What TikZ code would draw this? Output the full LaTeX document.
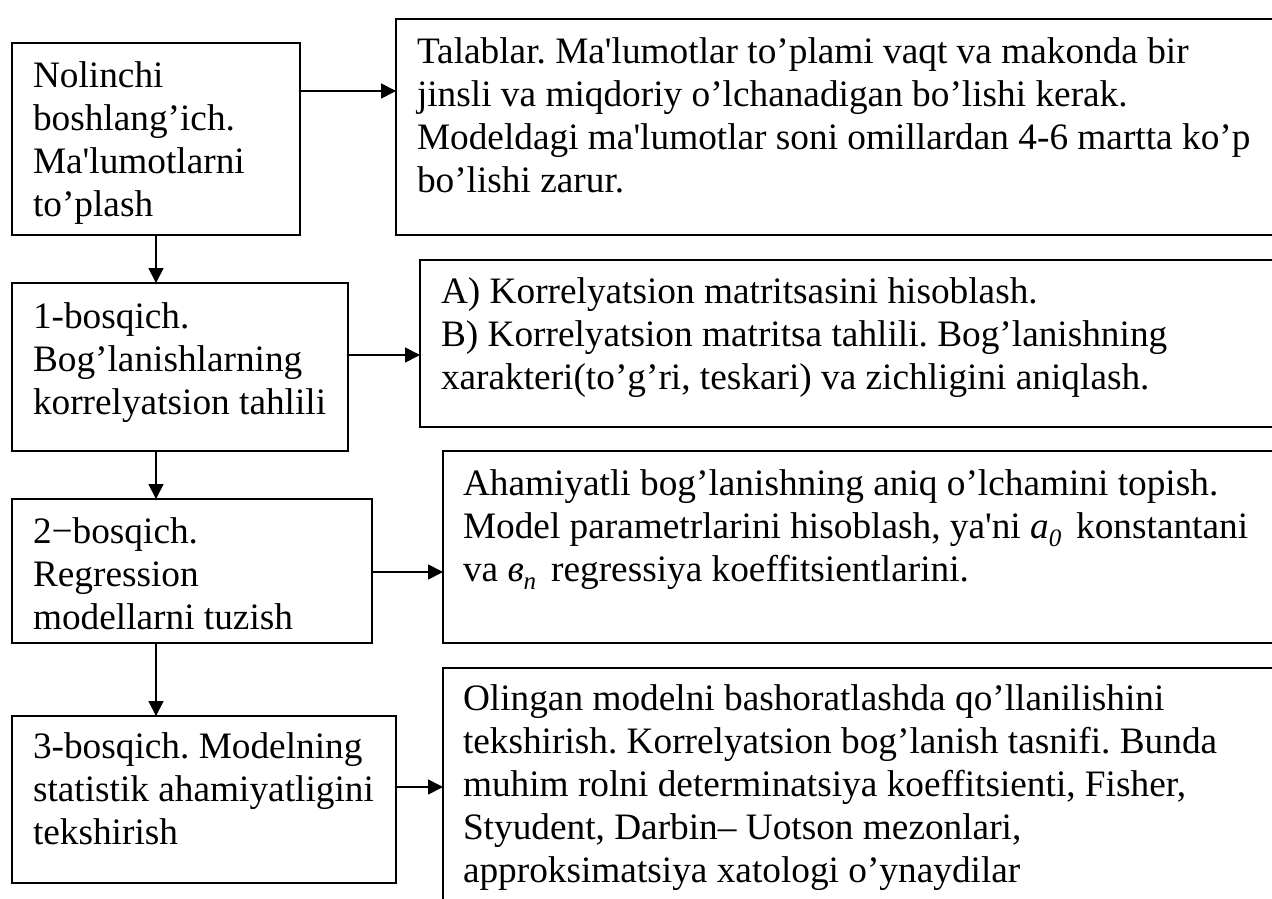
\documentclass[tikz,border=0pt]{standalone}
\usepackage{fontspec}
\setmainfont{Liberation Serif}[Ligatures=TeXOff]
\usetikzlibrary{arrows.meta}
\newcommand\myst{\rule{0pt}{30pt}}
\newcommand\mysub[1]{\raisebox{-0.22em}{\fontsize{25}{25}\selectfont #1}}
\frenchspacing
\begin{document}
\begin{tikzpicture}[x=1pt,y=-1pt,
  box/.style={draw,line width=1.8pt,rectangle,inner sep=0pt,outer sep=0pt,anchor=north west},
  txt/.style={inner sep=0pt,outer sep=0pt,anchor=north west,align=left,font=\fontsize{37.3}{43}\selectfont},
  arr/.style={line width=1.8pt,-{Triangle[length=15pt,width=15pt]}}]
\useasboundingbox (0,0) rectangle (1272,899);
\fill[white] (0,0) rectangle (1272,899);
% left boxes
\node[box,minimum width=288pt,minimum height=192pt] (b0) at (12,43) {};
\node[box,minimum width=336pt,minimum height=168pt] (b1) at (12,283) {};
\node[box,minimum width=360pt,minimum height=144pt] (b2) at (12,499) {};
\node[box,minimum width=384pt,minimum height=167pt] (b3) at (12,716) {};
% right boxes
\node[box,minimum width=894pt,minimum height=216pt] (r0) at (396,19) {};
\node[box,minimum width=870pt,minimum height=167pt] (r1) at (420,260) {};
\node[box,minimum width=847pt,minimum height=192pt] (r2) at (443,451) {};
\node[box,minimum width=847pt,minimum height=252pt] (r3) at (443,668) {};
% texts
\node[txt] (t0) at (33,57) {\myst Nolinchi\\boshlang’ich.\\Ma'lumotlarni\\to’plash};
\node[txt] (t1) at (33,298) {\myst 1-bosqich.\\Bog’lanishlarning\\korrelyatsion tahlili};
\node[txt] (t2) at (33,513) {\myst 2−bosqich.\\Regression\\modellarni tuzish};
\node[txt] (t3) at (33,728) {\myst 3-bosqich. Modelning\\statistik ahamiyatligini\\tekshirish};
\node[txt] (u0) at (417,33) {\myst Talablar. Ma'lumotlar to’plami vaqt va makonda bir\\jinsli va miqdoriy o’lchanadigan bo’lishi kerak.\\Modeldagi ma'lumotlar soni omillardan 4-6 martta ko’p\\bo’lishi zarur.};
\node[txt] (u1) at (441,273) {\myst A) Korrelyatsion matritsasini hisoblash.\\B) Korrelyatsion matritsa tahlili. Bog’lanishning\\xarakteri(to’g’ri, teskari) va zichligini aniqlash.};
\node[txt] (u2) at (463,465) {\myst Ahamiyatli bog’lanishning aniq o’lchamini topish.\\Model parametrlarini hisoblash, ya'ni {\itshape a\mysub{0}}\hspace{0.15em} konstantani\\va {\itshape в\mysub{n}}\hspace{0.15em} regressiya koeffitsientlarini.};
\node[txt] (u3) at (463,680) {\myst Olingan modelni bashoratlashda qo’llanilishini\\tekshirish. Korrelyatsion bog’lanish tasnifi. Bunda\\muhim rolni determinatsiya koeffitsienti, Fisher,\\Styudent, Darbin– Uotson mezonlari,\\approksimatsiya xatologi o’ynaydilar};
% horizontal arrows
\draw[arr] ([yshift=-48pt]b0.north east) -- ([yshift=-48pt]b0.north east -| r0.west);
\draw[arr] ([yshift=-72pt]b1.north east) -- ([yshift=-72pt]b1.north east -| r1.west);
\draw[arr] ([yshift=-73pt]b2.north east) -- ([yshift=-73pt]b2.north east -| r2.west);
\draw[arr] ([yshift=-71pt]b3.north east) -- ([yshift=-71pt]b3.north east -| r3.west);
% vertical arrows
\draw[arr] (b0.south) -- (b0.south |- b1.north);
\draw[arr] (b0.south |- b1.south) -- (b0.south |- b2.north);
\draw[arr] (b0.south |- b2.south) -- (b0.south |- b3.north);
\end{tikzpicture}
\end{document}
